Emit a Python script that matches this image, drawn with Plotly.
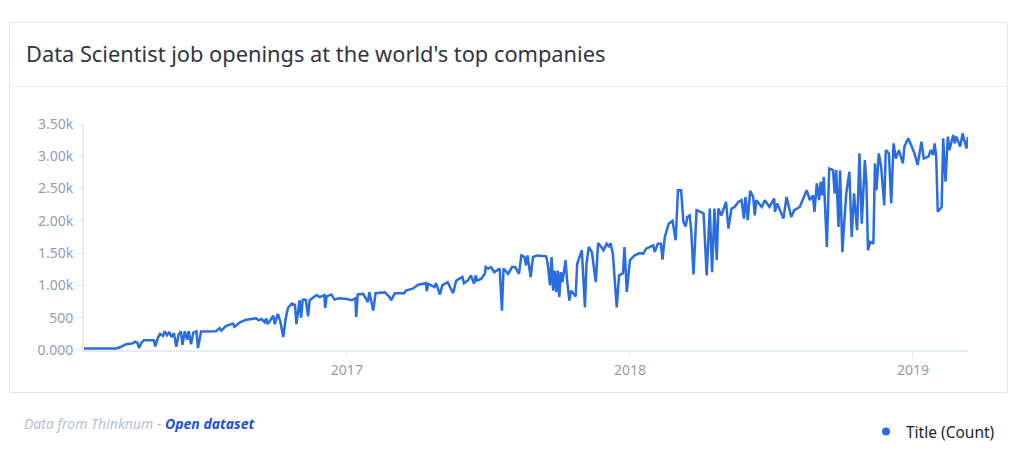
import plotly.graph_objects as go

# ---- data ----
dates = [
    "2016-01-28", "2016-03-10", "2016-03-16", "2016-03-22", "2016-03-30", "2016-04-03", "2016-04-06",
    "2016-04-08", "2016-04-11", "2016-04-14", "2016-04-22", "2016-04-27", "2016-04-29", "2016-05-02",
    "2016-05-05", "2016-05-09", "2016-05-11", "2016-05-14", "2016-05-17", "2016-05-20", "2016-05-23",
    "2016-05-26", "2016-05-29", "2016-06-01", "2016-06-03", "2016-06-06", "2016-06-09", "2016-06-11",
    "2016-06-14", "2016-06-17", "2016-06-21", "2016-06-23", "2016-06-27", "2016-07-16", "2016-07-21",
    "2016-07-23", "2016-07-29", "2016-08-04", "2016-08-07", "2016-08-09", "2016-08-16", "2016-08-24",
    "2016-09-06", "2016-09-09", "2016-09-13", "2016-09-17", "2016-09-19", "2016-09-21", "2016-09-28",
    "2016-09-30", "2016-10-04", "2016-10-07", "2016-10-11", "2016-10-14", "2016-10-17", "2016-10-22",
    "2016-10-26", "2016-10-28", "2016-11-01", "2016-11-03", "2016-11-05", "2016-11-09", "2016-11-12",
    "2016-11-14", "2016-11-23", "2016-11-27", "2016-12-03", "2016-12-04", "2016-12-06", "2016-12-12",
    "2016-12-16", "2016-12-22",
    "2017-01-01", "2017-01-07", "2017-01-12", "2017-01-13", "2017-01-15", "2017-01-22", "2017-01-28",
    "2017-01-30", "2017-02-04", "2017-02-07", "2017-02-19", "2017-02-25", "2017-02-27", "2017-03-04",
    "2017-03-16", "2017-03-18", "2017-03-27", "2017-04-03", "2017-04-13", "2017-04-14", "2017-04-16",
    "2017-04-24", "2017-04-26", "2017-05-01", "2017-05-04", "2017-05-11", "2017-05-18", "2017-05-22",
    "2017-05-30", "2017-06-01", "2017-06-06", "2017-06-10", "2017-06-14", "2017-06-16", "2017-06-18",
    "2017-06-23", "2017-06-28", "2017-06-29", "2017-07-02", "2017-07-06", "2017-07-10", "2017-07-17",
    "2017-07-20", "2017-07-22", "2017-07-28", "2017-08-02", "2017-08-06", "2017-08-11", "2017-08-14",
    "2017-08-18", "2017-08-20", "2017-08-22", "2017-08-26", "2017-08-29", "2017-09-04", "2017-09-15",
    "2017-09-17", "2017-09-20", "2017-09-22", "2017-09-24", "2017-09-26", "2017-09-28", "2017-09-30",
    "2017-10-02", "2017-10-04", "2017-10-06", "2017-10-10", "2017-10-12", "2017-10-15", "2017-10-17",
    "2017-10-23", "2017-10-25", "2017-10-28", "2017-10-31", "2017-11-04", "2017-11-06", "2017-11-09",
    "2017-11-13", "2017-11-18", "2017-11-21", "2017-11-25", "2017-11-28", "2017-12-02", "2017-12-05",
    "2017-12-07", "2017-12-10", "2017-12-15", "2017-12-18", "2017-12-23", "2017-12-25", "2017-12-28",
    "2018-01-01", "2018-01-07", "2018-01-14", "2018-01-18", "2018-01-22", "2018-01-31", "2018-02-02",
    "2018-02-06", "2018-02-10", "2018-02-12", "2018-02-15", "2018-02-20", "2018-02-25", "2018-03-01",
    "2018-03-04", "2018-03-08", "2018-03-11", "2018-03-14", "2018-03-16", "2018-03-19", "2018-03-21",
    "2018-03-24", "2018-03-28", "2018-04-02", "2018-04-06", "2018-04-10", "2018-04-14", "2018-04-17",
    "2018-04-20", "2018-04-23", "2018-04-25", "2018-04-29", "2018-05-05", "2018-05-08", "2018-05-12",
    "2018-05-16", "2018-05-21", "2018-05-25", "2018-05-28", "2018-05-30", "2018-06-02", "2018-06-05",
    "2018-06-09", "2018-06-11", "2018-06-13", "2018-06-20", "2018-06-24", "2018-06-30", "2018-07-06",
    "2018-07-07", "2018-07-10", "2018-07-18", "2018-07-22", "2018-07-28", "2018-08-01", "2018-08-08",
    "2018-08-17", "2018-08-21", "2018-08-25", "2018-08-27", "2018-08-30", "2018-09-02", "2018-09-04",
    "2018-09-06", "2018-09-08", "2018-09-12", "2018-09-15", "2018-09-20", "2018-09-22", "2018-09-24",
    "2018-09-27", "2018-09-29", "2018-10-02", "2018-10-04", "2018-10-07", "2018-10-11", "2018-10-14",
    "2018-10-17", "2018-10-21", "2018-10-24", "2018-10-27", "2018-10-31", "2018-11-02", "2018-11-04",
    "2018-11-07", "2018-11-11", "2018-11-13", "2018-11-15", "2018-11-18", "2018-11-21", "2018-11-25",
    "2018-11-27", "2018-12-01", "2018-12-04", "2018-12-07", "2018-12-10", "2018-12-14", "2018-12-19",
    "2018-12-21", "2018-12-26", "2018-12-30",
    "2019-01-03", "2019-01-07", "2019-01-10", "2019-01-12", "2019-01-15", "2019-01-21", "2019-01-24",
    "2019-01-27", "2019-01-29", "2019-01-31", "2019-02-02", "2019-02-07", "2019-02-09", "2019-02-12",
    "2019-02-15", "2019-02-17", "2019-02-22", "2019-02-24", "2019-02-26", "2019-03-03", "2019-03-06",
    "2019-03-09", "2019-03-11", "2019-03-13",
]

counts = [
    25, 25, 50, 90, 100, 130, 110,
    30, 110, 150, 150, 150, 55, 180,
    250, 220, 290, 230, 280, 200, 260,
    50, 240, 290, 80, 290, 160, 290,
    90, 270, 290, 30, 285, 290, 340,
    300, 370, 390, 410, 360, 430, 470,
    490, 460, 480, 430, 490, 400, 530,
    400, 560, 450, 200, 480, 650, 720,
    700, 400, 770, 500, 780, 780, 520,
    770, 850, 820, 850, 650, 830, 860,
    780, 800,
    790, 770, 800, 510, 860, 870, 740,
    895, 610, 880, 895, 820, 770, 880,
    880, 920, 950, 1010, 1035, 910, 1025,
    975, 1035, 860, 1000, 1050, 880, 1075,
    1130, 1035, 1075, 1155, 1025, 1155, 1075,
    1100, 1180, 1285, 1260, 1285, 1205, 1260,
    610, 1260, 1180, 1285, 1285, 1180, 1465,
    1440, 1310, 1465, 1130, 1440, 1465, 1450,
    1335, 1000, 1440, 920, 1230, 895, 1230,
    820, 1205, 1050, 1390, 1075, 765, 920,
    830, 1335, 1440, 1545, 660, 1335, 1595,
    1515, 1050, 1655, 1595, 1545, 1645, 1595,
    1655, 1490, 660, 1155, 1190, 1595, 900,
    1390, 1465, 1500, 1490, 1570, 1620, 1520,
    1645, 1645, 1400, 1750, 1955, 2000, 1700,
    2475, 2475, 1985, 1915, 2060, 2085, 1855,
    1170, 2165, 2140, 2115, 1155, 2190, 1205,
    2190, 1390, 2190, 2085, 2295, 1880, 2190,
    2215, 2295, 2320, 2035, 2370, 2010, 2465,
    2370, 2085, 2320, 2215, 2320, 2215, 2345,
    2140, 2270, 2035, 2370, 2060, 2165, 2215,
    2475, 2320, 2395, 2140, 2580, 2320, 2605,
    2395, 2680, 1595, 2810, 2785, 2425, 2785,
    1905, 2785, 1515, 1905, 2425, 2760, 1750,
    2425, 1855, 3045, 1955, 2940, 2580, 1545,
    1675, 1645, 2890, 2475, 3045, 2840, 2240,
    3095, 3045, 2270, 3200, 2965, 3095, 2890,
    3150, 3280, 3150,
    3045, 2865, 3120, 3225, 2965, 2995, 3095,
    3020, 3200, 2995, 2140, 2215, 3280, 2605,
    3305, 3095, 3330, 3200, 3305, 3150, 3355,
    3200, 3120, 3300,
]

series_name = "Title (Count)"
y_tick_values = [0, 500, 1000, 1500, 2000, 2500, 3000, 3500]
y_tick_labels = ["0.000", "500", "1.00k", "1.50k", "2.00k", "2.50k", "3.00k", "3.50k"]
title_text = "Data Scientist job openings at the world's top companies"

# ---- figure (page has an 8px body margin) ----
OFF = 8
W, H = 1014, 443
L, R, T, B = 76, 54, 116, 101
pw, ph = W - L - R, H - T - B


def px(x):  # page x -> paper x
    return (x - OFF - L) / pw


def py(y):  # page y -> paper y
    return (OFF + H - B - y) / ph


LINE = "#2a6de0"
TICK = "#8f9cb5"
AXIS = "#e6ecf3"
FONT = "Noto Sans"

fig = go.Figure()
fig.add_trace(go.Scatter(
    x=dates, y=counts, mode="lines", name=series_name,
    line=dict(color=LINE, width=2.5), showlegend=False,
))
fig.add_trace(go.Scatter(
    x=[None], y=[None], mode="markers", name=series_name,
    marker=dict(color=LINE, size=8), showlegend=True,
))

shapes = [
    dict(type="rect", xref="paper", yref="paper",
         x0=px(9.5), x1=px(1007.5), y0=py(392.5), y1=py(22.5),
         line=dict(color="#e3e8ee", width=1), fillcolor="rgba(0,0,0,0)", layer="below"),
    dict(type="line", xref="paper", yref="paper",
         x0=px(10), x1=px(1007), y0=py(86.5), y1=py(86.5),
         line=dict(color="#e9edf2", width=1), layer="below"),
]

annotations = [
    dict(text=title_text, xref="paper", yref="paper", x=px(24), y=py(53),
         xanchor="left", yanchor="middle", showarrow=False,
         font=dict(family=FONT, size=21.8, color="#2f363d")),
    dict(text="<i>Data from Thinknum - </i><b><i><span style='color:#1d50d9'>Open dataset</span></i></b>",
         xref="paper", yref="paper", x=px(22), y=py(423),
         xanchor="left", yanchor="middle", showarrow=False,
         font=dict(family=FONT, size=14, color="#b5c0d6")),
]

fig.update_layout(
    width=W, height=H,
    margin=dict(l=L, r=R, t=T, b=B, pad=0, autoexpand=False),
    paper_bgcolor="white", plot_bgcolor="white",
    font=dict(family=FONT, color=TICK, size=14),
    shapes=shapes, annotations=annotations,
    legend=dict(x=px(1000), y=py(432), xanchor="right", yanchor="middle",
                font=dict(family=FONT, size=15.5, color="#212529"),
                bgcolor="rgba(0,0,0,0)", itemwidth=30),
    showlegend=True,
)

fig.update_xaxes(
    type="date", range=["2016-01-28", "2019-03-13"],
    dtick="M12", tick0="2017-01-01", tickformat="%Y",
    showgrid=False, zeroline=False,
    showline=True, linecolor=AXIS, linewidth=2,
    ticks="outside", ticklen=6, tickcolor=AXIS, tickwidth=1,
    tickfont=dict(size=14, color=TICK),
)
fig.update_yaxes(
    range=[0, 3500], tickvals=y_tick_values, ticktext=y_tick_labels,
    showgrid=False, zeroline=False,
    showline=True, linecolor=AXIS, linewidth=2,
    ticks="outside", ticklen=6, tickcolor=AXIS, tickwidth=1,
    tickfont=dict(size=14, color=TICK),
)

fig.write_html("out.html")
